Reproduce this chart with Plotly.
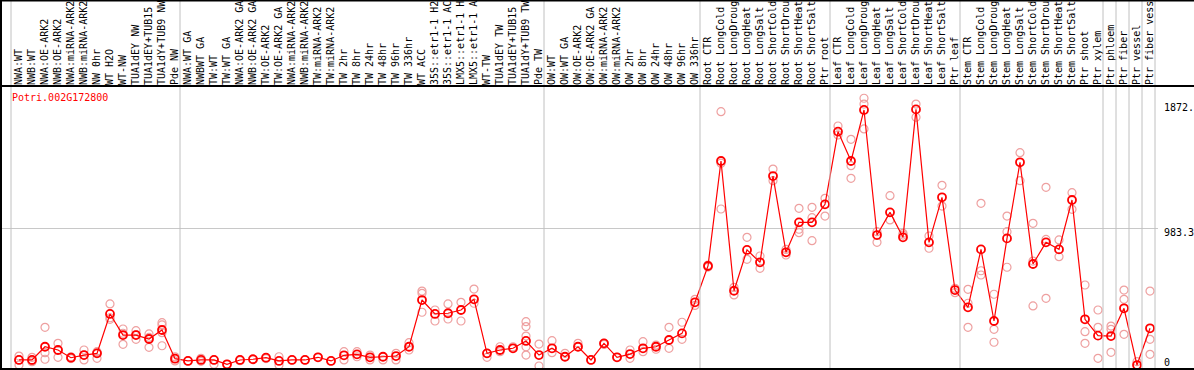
import plotly.graph_objects as go

gene_id = "Potri.002G172800"

labels = [
    "NWA:WT", "NWB:WT", "NWA:OE-ARK2", "NWB:OE-ARK2", "NWA:miRNA-ARK2", "NWB:miRNA-ARK2",
    "NW 0hr", "WT H2O", "WT-NW", "TUA1dEY NW", "TUA1dEY+TUB15", "TUA1dY+TUB9 NW", "Pde NW",
    "NWA:WT GA", "NWBWT GA", "TW:WT", "TW:WT GA", "NWA:OE-ARK2 GA", "NWB:OE-ARK2 GA",
    "TW:OE-ARK2", "TW:OE-ARK2 GA", "NWA:miRNA-ARK2", "NWB:miRNA-ARK2", "TW:miRNA-ARK2",
    "TW:miRNA-ARK2", "TW 2hr", "TW 8hr", "TW 24hr", "TW 48hr", "TW 96hr", "TW 336hr",
    "WT ACC", "35S::etr1-1 H2", "35S::etr1-1 AC", "LMX5::etr1-1 H", "LMX5::etr1-1 A",
    "WT-TW", "TUA1dEY TW", "TUA1dEY+TUB15", "TUA1dY+TUB9 TW", "Pde TW",
    "OW:WT", "OW:WT GA", "OW:OE-ARK2", "OW:OE-ARK2 GA", "OW:miRNA-ARK2", "OW:miRNA-ARK2",
    "OW 2hr", "OW 8hr", "OW 24hr", "OW 48hr", "OW 96hr", "OW 336hr",
    "Root CTR", "Root LongCold", "Root LongDroug", "Root LongHeat", "Root LongSalt",
    "Root ShortCold", "Root ShortDrou", "Root ShortHeat", "Root ShortSalt", "Ptr root",
    "Leaf CTR", "Leaf LongCold", "Leaf LongDroug", "Leaf LongHeat", "Leaf LongSalt",
    "Leaf ShortCold", "Leaf ShortDrou", "Leaf ShortHeat", "Leaf ShortSalt", "Ptr leaf",
    "Stem CTR", "Stem LongCold", "Stem LongDroug", "Stem LongHeat", "Stem LongSalt",
    "Stem ShortCold", "Stem ShortDrou", "Stem ShortHeat", "Stem ShortSalt", "Ptr shoot",
    "Ptr xylem", "Ptr phloem", "Ptr fiber", "Ptr vessel", "Ptr fiber vess",
]

mean_values = [
    50, 50, 144, 121, 66, 85, 97, 377, 227, 227, 199, 263, 59,
    43, 50, 50, 19, 50, 55, 66, 43, 50, 50, 69, 43, 83, 90, 69, 73, 78, 144,
    476, 377, 382, 405, 481, 97, 121, 133, 185, 85,
    133, 73, 144, 50, 168, 69, 92, 133, 144, 192, 239, 460,
    718, 1464, 542, 832, 744, 1357, 815, 1028, 1028, 1156,
    1673, 1464, 1827, 938, 1099, 922, 1831, 886, 1206, 547,
    424, 836, 327, 914, 1455, 732, 886, 836, 1187, 339, 223,
    220, 417, 14, 275,
]

replicates = [
    [78, 14, 50], [69, 38, 45], [282, 102, 55], [168, 69, 121], [60, 72, 66],
    [121, 50, 85], [109, 62, 100], [448, 339, 350], [270, 161, 240], [258, 197, 230],
    [235, 140, 210], [315, 299, 244, 151], [72, 43, 60],
    [43], [62, 40], [50, 19], [19], [50, 45], [55], [66, 60], [73, 14], [50], [50],
    [69], [43], [109, 50], [109, 73], [85, 50], [50, 73], [97, 50], [173, 121],
    [540, 524, 389], [405, 327], [448, 341], [460, 327], [554, 453], [69, 97],
    [144, 109], [144, 133], [322, 287, 220, 144, 85], [163, 7],
    [187, 102], [97, 73], [168, 144], [50], [168, 160], [69], [121, 62], [180, 109],
    [156, 126], [282, 133], [318, 197], [481, 438],
    [725, 710], [1815, 1448, 1123], [566, 512], [922, 765], [789, 701], [1407, 1324],
    [836, 796], [1128, 979, 955], [1135, 1061, 898], [1199, 1073],
    [1713, 1649], [1618, 1431, 1341], [1910, 1869, 1692], [962, 886], [1218, 1045],
    [950, 938], [1869, 1775], [931, 844], [1291, 1144], [559, 528],
    [552, 453, 282], [1163, 684, 654], [517, 268, 176], [1073, 962, 709], [1523, 1324],
    [1021, 753, 434], [1277, 907, 488], [903, 784], [1239, 1121], [583, 251, 168],
    [405, 282, 62], [291, 268, 104], [547, 481, 232], [38], [540, 197, 90],
]

group_boundaries = [0, 13, 41, 53, 63, 73, 84, 85, 86, 87, 88]
y_label_values = [1872.0, 983.3, 0]
y_label_texts = ["1872.", "983.3", "0"]

MONO = "DejaVu Sans Mono"
W, H = 1194, 370
L, R, T, B = 1, 36, 86, 1
plot_w = W - L - R
plot_h = H - T - B
px_per_cat = 13.0
xmin = -18.0 / px_per_cat
xmax = xmin + plot_w / px_per_cat
ymin, ymax = -14.2, 1997.2

xs = list(range(len(labels)))
rep_x, rep_y = [], []
for i, reps in enumerate(replicates):
    for v in reps:
        rep_x.append(i)
        rep_y.append(v)

fig = go.Figure()
fig.add_trace(go.Scatter(
    x=rep_x, y=rep_y, mode="markers",
    marker=dict(symbol="circle-open", size=8, color="#eea0a0", line=dict(width=1.2, color="#eea0a0")),
    hoverinfo="skip", showlegend=False,
))
fig.add_trace(go.Scatter(
    x=xs, y=mean_values, mode="lines+markers",
    line=dict(color="#ff0000", width=1.2),
    marker=dict(symbol="circle-open", size=8, color="#ff0000", line=dict(width=1.8, color="#ff0000")),
    showlegend=False,
))

shapes = []
top_paper = 1 + T / plot_h
right_paper = 1 + (R + 2) / plot_w
for b in group_boundaries:
    xb = b - 0.5 - 1.5 / px_per_cat
    shapes.append(dict(type="line", xref="x", yref="paper", x0=xb, x1=xb, y0=0, y1=top_paper + 0.01,
                       line=dict(color="#c0c0c0", width=1)))
for yp in (0, 1, top_paper - 0.5 / plot_h):
    shapes.append(dict(type="line", xref="paper", yref="paper", x0=-0.01, x1=right_paper, y0=yp, y1=yp,
                       line=dict(color="black", width=2)))
shapes.append(dict(type="line", xref="paper", yref="paper", x0=0, x1=0, y0=-0.01, y1=top_paper + 0.01,
                   line=dict(color="black", width=2)))

annotations = [dict(
    text=gene_id, xref="paper", yref="paper", x=(10 - L) / plot_w, y=1 - (97 - T) / plot_h,
    xanchor="left", yanchor="middle", showarrow=False, font=dict(family=MONO, size=10, color="#ff0000"),
)]
shifts = [-3.5, -4, 5]
for v, t, s in zip(y_label_values, y_label_texts, shifts):
    annotations.append(dict(
        text=t, xref="paper", yref="y", x=(1162 - L) / plot_w, y=v, yshift=s,
        xanchor="left", yanchor="middle", showarrow=False, font=dict(family=MONO, size=10, color="black"),
    ))

fig.update_layout(
    width=W, height=H, margin=dict(l=L, r=R, t=T, b=B, pad=0),
    paper_bgcolor="white", plot_bgcolor="white",
    shapes=shapes, annotations=annotations,
    xaxis=dict(
        range=[xmin, xmax], side="top", tickmode="array", tickvals=xs, ticktext=labels,
        tickangle=-90, ticks="", showgrid=False, zeroline=False, showline=False, automargin=False,
        tickfont=dict(family=MONO, size=10, color="black"), fixedrange=True,
    ),
    yaxis=dict(
        range=[ymin, ymax], tickmode="array", tickvals=[983.3], showticklabels=False,
        showgrid=True, gridcolor="#c8c8c8", gridwidth=1, zeroline=False, showline=False,
        automargin=False, fixedrange=True,
    ),
    showlegend=False,
)

fig.write_html("out.html", config={"displayModeBar": False},
               post_script="document.body.style.margin='0';document.body.style.overflow='hidden';")
